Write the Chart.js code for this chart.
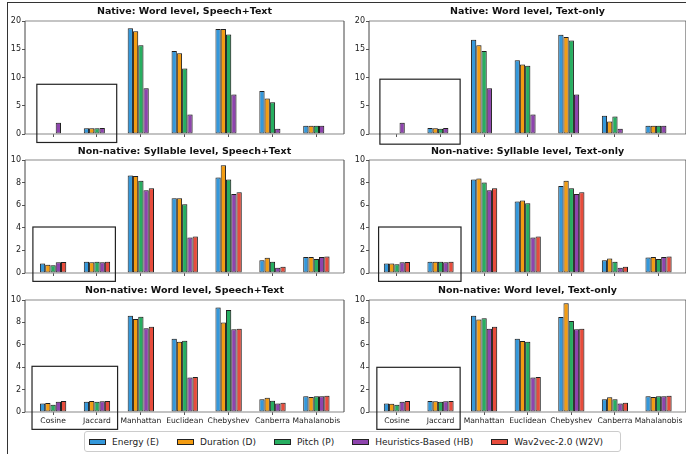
<!DOCTYPE html>
<html>
<head>
<meta charset="utf-8">
<script src="https://cdn.jsdelivr.net/npm/chart.js@4/dist/chart.umd.min.js"></script>
<style>
  body { margin:0; width:686px; height:454px; overflow:hidden; background:#fff; position:relative; font-family:'DejaVu Sans', sans-serif; }
  canvas { position:absolute; }
  #frame { position:absolute; left:7px; top:2px; width:700px; height:470px; border-left:1.5px solid #333; border-top:1.5px solid #333; }
  #legend { position:absolute; left:84px; top:431px; width:537px; height:21px; box-sizing:border-box; border:1px solid #ccc; border-radius:3px; background:#fff;
            display:flex; align-items:center; padding-left:4px; font-size:9px; color:#222; z-index:5; }
  #legend .it { display:flex; align-items:center; margin-right:18px; white-space:nowrap; }
  #legend i { display:inline-block; width:17px; height:6px; box-sizing:border-box; border:1px solid #222; margin-right:6px; }
</style>
</head>
<body>
<div id="frame"></div>
<div id="legend"></div>
<script>
// categories and series
const categories = ['Cosine', 'Jaccard', 'Manhattan', 'Euclidean', 'Chebyshev', 'Canberra', 'Mahalanobis'];
const seriesNames = ['Energy (E)', 'Duration (D)', 'Pitch (P)', 'Heuristics-Based (HB)', 'Wav2vec-2.0 (W2V)'];
const seriesColors = ['#3498db', '#f39c12', '#27ae60', '#8e44ad', '#e74c3c'];

// values per panel, one row per series (E, D, P, HB, W2V), one column per category
const nativeWordSpeechText = [
  [0, 1.0, 18.7, 14.7, 18.6, 7.6, 1.48],
  [0, 1.0, 18.2, 14.3, 18.6, 6.3, 1.48],
  [0, 1.0, 15.7, 11.6, 17.6, 5.6, 1.48],
  [2.0, 1.05, 8.1, 3.45, 7.0, 0.95, 1.48],
  [null, null, null, null, null, null, null]
];
const nativeWordTextOnly = [
  [0.15, 1.05, 16.7, 13.05, 17.55, 3.25, 1.48],
  [0.15, 1.0, 15.7, 12.3, 17.15, 2.2, 1.48],
  [0.15, 0.95, 14.7, 12.1, 16.55, 3.1, 1.45],
  [2.0, 1.05, 8.1, 3.45, 7.0, 0.95, 1.48],
  [null, null, null, null, null, null, null]
];
const nonNativeSyllableSpeechText = [
  [0.83, 1.0, 8.63, 6.62, 8.46, 1.13, 1.42],
  [0.74, 0.95, 8.58, 6.62, 9.53, 1.34, 1.42],
  [0.68, 1.0, 8.16, 6.08, 8.28, 1.0, 1.25],
  [0.95, 0.95, 7.33, 3.15, 7.0, 0.47, 1.42],
  [0.98, 1.0, 7.5, 3.23, 7.15, 0.56, 1.45]
];
const nonNativeSyllableTextOnly = [
  [0.83, 1.0, 8.28, 6.32, 7.69, 1.13, 1.37],
  [0.83, 1.0, 8.37, 6.41, 8.16, 1.28, 1.42],
  [0.77, 1.0, 8.01, 6.17, 7.5, 1.0, 1.25],
  [0.95, 0.95, 7.33, 3.15, 7.0, 0.47, 1.42],
  [0.98, 1.0, 7.5, 3.23, 7.15, 0.56, 1.45]
];
const nonNativeWordSpeechText = [
  [0.77, 0.92, 8.6, 6.55, 9.32, 1.13, 1.4],
  [0.8, 0.98, 8.3, 6.28, 7.98, 1.28, 1.34],
  [0.65, 0.92, 8.5, 6.37, 9.1, 1.01, 1.4],
  [0.92, 0.95, 7.47, 3.07, 7.38, 0.77, 1.4],
  [0.98, 0.98, 7.62, 3.12, 7.44, 0.83, 1.46]
];
const nonNativeWordTextOnly = [
  [0.77, 0.98, 8.6, 6.55, 8.48, 1.13, 1.4],
  [0.74, 0.95, 8.27, 6.34, 9.7, 1.31, 1.34],
  [0.65, 0.92, 8.36, 6.28, 8.13, 1.13, 1.4],
  [0.92, 0.95, 7.44, 3.07, 7.38, 0.77, 1.4],
  [0.98, 0.98, 7.62, 3.12, 7.44, 0.83, 1.46]
];

const titles = ['Native: Word level, Speech+Text', 'Native: Word level, Text-only',
  'Non-native: Syllable level, Speech+Text', 'Non-native: Syllable level, Text-only',
  'Non-native: Word level, Speech+Text', 'Non-native: Word level, Text-only'];
const panelValues = [nativeWordSpeechText, nativeWordTextOnly, nonNativeSyllableSpeechText,
  nonNativeSyllableTextOnly, nonNativeWordSpeechText, nonNativeWordTextOnly];
const yMaxes = [20, 20, 10, 10, 10, 10];
const ySteps = [5, 5, 2, 2, 2, 2];
// highlight box around Cosine/Jaccard, in data units: [x0, x1, y0, y1]
const boxes = [[-0.37, 1.45, -1.5, 8.8], [-0.39, 1.45, -1.8, 9.7], [-0.46, 1.42, -0.74, 4.07],
  [-0.42, 1.47, -0.74, 4.07], [-0.48, 1.47, -1.55, 4.08], [-0.46, 1.45, -1.55, 3.99]];

Chart.defaults.font.family = "'DejaVu Sans', sans-serif";
Chart.defaults.color = '#222';

// canvas layout: [top, height, titleTop, titleBottom, padBottom, xAxisH] per row
const rows = [[0, 148, 6, 3, 8, 6], [140, 149, 6, 2, 10, 6], [279, 153, 6, 3, 2, 18]];
const cols = [[0, 345, 25, 1], [345, 341, 24, 0]]; // left, width, yAxisW, padRight

const framePlugin = {
  id: 'frame',
  beforeDatasetsDraw(chart) {
    const c = chart.ctx;
    c.save();
    c.shadowColor = 'rgba(0,0,0,0.14)';
    c.shadowOffsetX = 1.5;
    c.shadowOffsetY = -1.5;
  },
  afterDatasetsDraw(chart) { chart.ctx.restore(); },
  afterDraw(chart) {
    const c = chart.ctx, a = chart.chartArea;
    c.save();
    c.lineWidth = 2; c.strokeStyle = '#c4c4c4';
    c.beginPath(); c.moveTo(a.left, a.top); c.lineTo(a.right, a.top); c.stroke();
    c.lineWidth = 1.2; c.strokeStyle = '#888';
    c.beginPath(); c.moveTo(a.left, a.bottom); c.lineTo(a.right, a.bottom); c.stroke();
    c.lineWidth = 1; c.strokeStyle = '#444';
    c.beginPath(); c.moveTo(a.left, a.top); c.lineTo(a.left, a.bottom); c.stroke();
    c.beginPath(); c.moveTo(a.right, a.top); c.lineTo(a.right, a.bottom); c.stroke();
    const b = chart.options.plugins.frame.box;
    const xs = chart.scales.x, ys = chart.scales.y;
    const x0 = xs.getPixelForValue(b[0]), x1 = xs.getPixelForValue(b[1]);
    const y0 = ys.getPixelForValue(b[2]), y1 = ys.getPixelForValue(b[3]);
    c.lineWidth = 1.2; c.strokeStyle = '#222';
    c.strokeRect(x0, y1, x1 - x0, y0 - y1);
    c.restore();
  }
};

panelValues.forEach(function(values, p) {
  const row = rows[Math.floor(p / 2)], col = cols[p % 2];
  const bottomRow = p >= 4;
  const cv = document.createElement('canvas');
  cv.width = col[1]; cv.height = row[1];
  cv.style.left = col[0] + 'px'; cv.style.top = row[0] + 'px';
  cv.style.width = col[1] + 'px'; cv.style.height = row[1] + 'px';
  document.body.appendChild(cv);

  const datasets = [];
  for (let k = 0; k < seriesNames.length; k++) {
    datasets.push({
      label: seriesNames[k],
      data: values[k].map(function(v, i) { return {x: i, y: v}; }),
      backgroundColor: seriesColors[k],
      borderColor: '#222',
      borderWidth: 1,
      borderSkipped: false,
      categoryPercentage: 0.6,
      barPercentage: 1.0
    });
  }

  new Chart(cv, {
    type: 'bar',
    data: {datasets: datasets},
    plugins: [framePlugin],
    options: {
      responsive: false,
      animation: false,
      devicePixelRatio: 1,
      layout: {padding: {left: 0, right: col[3], top: 0, bottom: row[4]}},
      plugins: {
        legend: {display: false},
        tooltip: {enabled: false},
        frame: {box: boxes[p]},
        title: {
          display: true, text: titles[p], fullSize: false, color: '#111',
          font: {size: 9.5, weight: 'bold', lineHeight: '12px'},
          padding: {top: row[2], bottom: row[3]}
        }
      },
      scales: {
        x: {
          type: 'linear', min: -0.64, max: 6.63, offset: false,
          afterBuildTicks: function(s) { s.ticks = categories.map(function(c, i) { return {value: i}; }); },
          afterFit: function(s) { s.height = row[5]; },
          grid: {offset: false, drawOnChartArea: false, drawTicks: true, tickLength: 3, color: '#555'},
          border: {display: false},
          ticks: {
            display: bottomRow, autoSkip: false, maxRotation: 0, padding: 1,
            font: {size: 7.6}, color: '#222',
            callback: function(v) { return categories[v]; }
          }
        },
        y: {
          min: 0, max: yMaxes[p],
          afterFit: function(s) { s.width = col[2]; },
          grid: {drawOnChartArea: false, drawTicks: true, tickLength: 3, color: '#555'},
          border: {display: false},
          ticks: {stepSize: ySteps[p], padding: 1, font: {size: 8}, color: '#222'}
        }
      }
    }
  });
});

// legend
const legend = document.getElementById('legend');
seriesNames.forEach(function(name, k) {
  const it = document.createElement('span');
  it.className = 'it';
  const sw = document.createElement('i');
  sw.style.background = seriesColors[k];
  it.appendChild(sw);
  it.appendChild(document.createTextNode(name));
  legend.appendChild(it);
});
</script>
</body>
</html>
